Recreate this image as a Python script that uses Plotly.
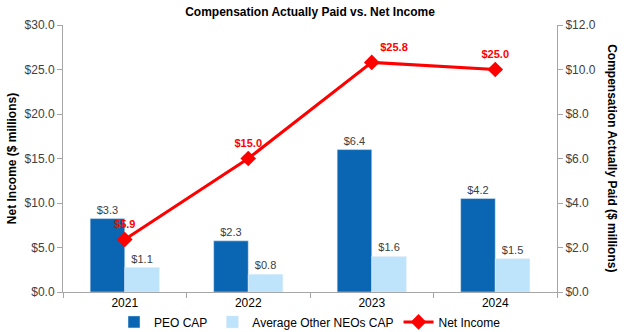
import plotly.graph_objects as go

years = ["2021", "2022", "2023", "2024"]
peo_cap = [3.3, 2.3, 6.4, 4.2]
neo_cap = [1.1, 0.8, 1.6, 1.5]
net_income = [5.9, 15.0, 25.8, 25.0]

left_ticks = [0, 5, 10, 15, 20, 25, 30]
right_ticks = [0, 2, 4, 6, 8, 10, 12]

FONT = "Arial, Liberation Sans, sans-serif"
TXT = "#404040"
AX = "#A6A6A6"

fig = go.Figure()
fig.add_trace(go.Bar(
    x=years, y=peo_cap, name="PEO CAP", marker_color="#0A66B2",
    text=[f"${v:.1f}" for v in peo_cap], textposition="outside",
    textfont=dict(size=11, color=TXT, family=FONT), cliponaxis=False,
    yaxis="y"))
fig.add_trace(go.Bar(
    x=years, y=neo_cap, name="Average Other NEOs CAP", marker_color="#BDE4FA",
    text=[f"${v:.1f}" for v in neo_cap], textposition="outside",
    textfont=dict(size=11, color=TXT, family=FONT), cliponaxis=False,
    yaxis="y"))
fig.add_trace(go.Scatter(
    x=years, y=net_income, name="Net Income", mode="lines+markers+text",
    line=dict(color="#FF0000", width=3),
    marker=dict(symbol="diamond", size=12, color="#FF0000"),
    text=[f"<b>${v:.1f}</b>" for v in net_income],
    textposition=["top center", "top center", "top right", "top center"],
    textfont=dict(size=11, color="#FF0000", family=FONT), cliponaxis=False,
    yaxis="y2"))

fig.update_layout(
    width=624, height=332,
    margin=dict(l=63, r=67, t=25, b=40, autoexpand=False),
    paper_bgcolor="white", plot_bgcolor="white",
    font=dict(family=FONT, size=12, color=TXT),
    title=dict(text="<b>Compensation Actually Paid vs. Net Income</b>",
               x=0.5, xref="paper", xanchor="center", y=0.963, yanchor="middle",
               font=dict(size=12, color="black", family=FONT)),
    barmode="group", bargap=0.44, bargroupgap=0,
    xaxis=dict(showline=True, linecolor=AX, linewidth=1, ticks="outside",
               tickson="boundaries", ticklen=5, tickcolor=AX,
               tickfont=dict(size=12, color="black"), showgrid=False),
    yaxis=dict(side="right", range=[0, 12], tickvals=right_ticks,
               ticktext=[f"${v:.1f}" for v in right_ticks],
               showline=True, linecolor=AX, linewidth=1, ticks="outside",
               ticklen=5, tickcolor=AX, showgrid=False, zeroline=False,
               tickfont=dict(size=12, color=TXT)),
    yaxis2=dict(side="left", overlaying="y", range=[0, 30], tickvals=left_ticks,
                ticktext=[f"${v:.1f}" for v in left_ticks],
                showline=True, linecolor=AX, linewidth=1, ticks="outside",
                ticklen=5, tickcolor=AX, showgrid=False, zeroline=False,
                tickfont=dict(size=12, color=TXT),
                title=dict(text="<b>Net Income ($ millions)</b>",
                           font=dict(size=12, color="black"), standoff=5)),
    legend=dict(orientation="h", x=0.5, xanchor="center", y=-0.112,
                yanchor="middle", font=dict(size=12, color="black"),
                traceorder="normal", itemwidth=30),
    annotations=[dict(text="<b>Compensation Actually Paid ($ millions)</b>",
                      textangle=90, xref="paper", yref="paper", x=1.112, y=0.5,
                      xanchor="center", yanchor="middle", showarrow=False,
                      font=dict(size=12, color="black", family=FONT))],
)

fig.write_html("out.html")
